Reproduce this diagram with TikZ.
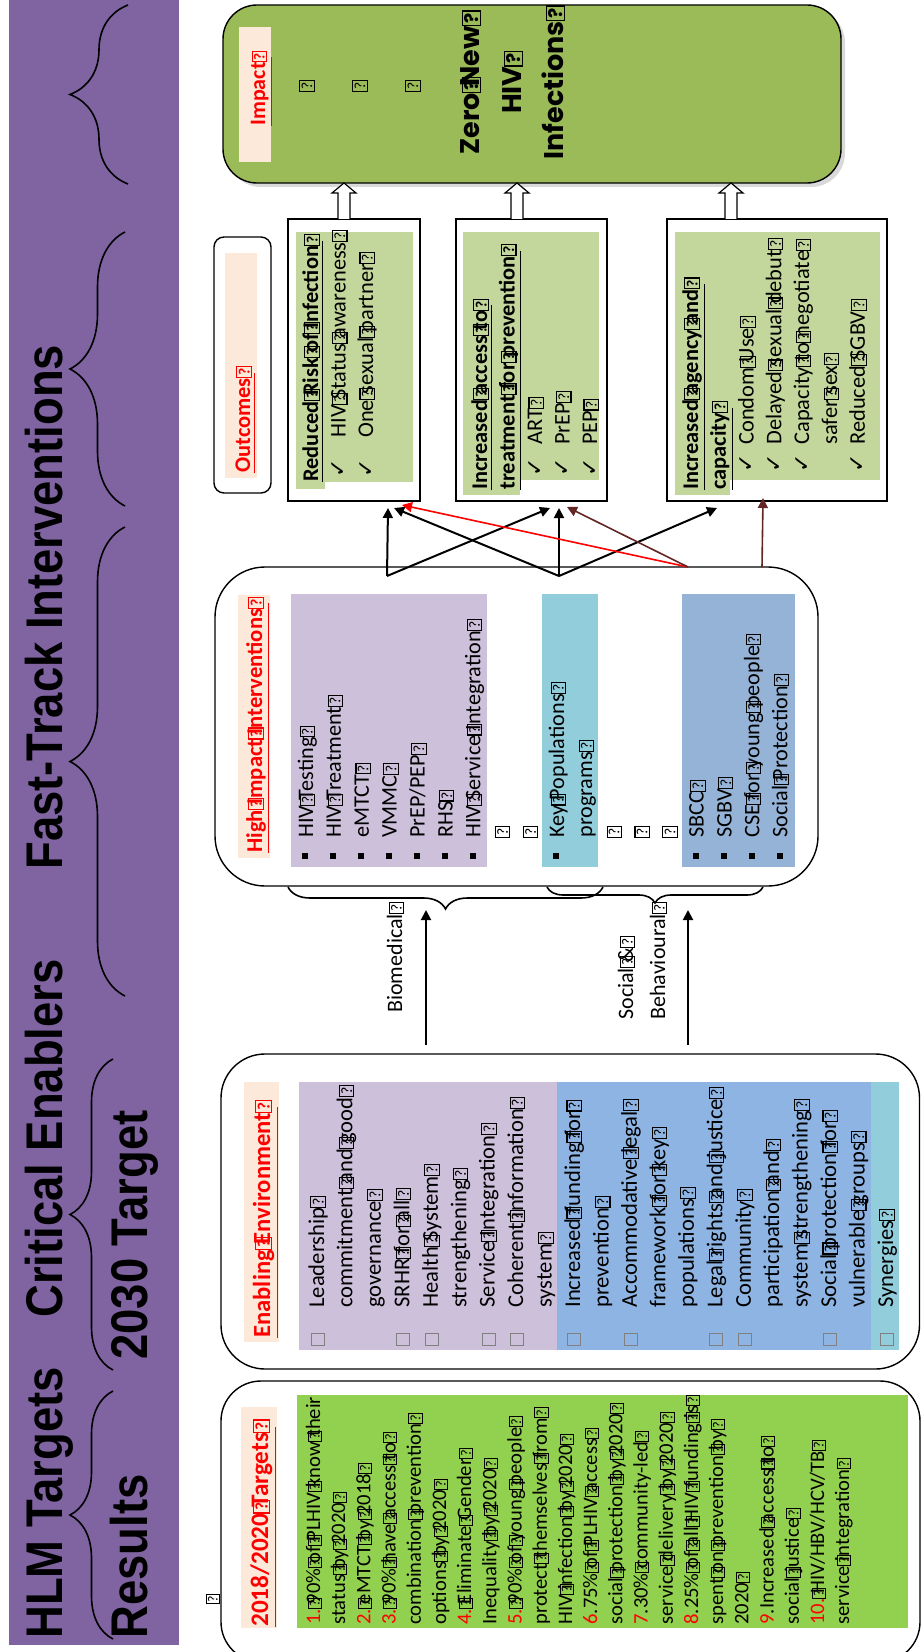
\documentclass[tikz,border=0pt]{standalone}
\usepackage{fontspec}
\usepackage{graphicx}
\setmainfont{Carlito}
\newfontfamily\hdrfont[FakeStretch=0.88]{Liberation Sans}
\newfontfamily\impfont{Poppins}
\newfontfamily\symfont{DejaVu Sans}
\usetikzlibrary{arrows.meta,decorations.pathreplacing,fit,shadows}

\definecolor{bandpurple}{HTML}{8064A2}
\definecolor{peach}{HTML}{FDE9D9}
\definecolor{tgtgreen}{HTML}{92D050}
\definecolor{lilac}{HTML}{CCC0DA}
\definecolor{envblue}{HTML}{8DB4E2}
\definecolor{hiiblue}{HTML}{95B3D7}
\definecolor{aqua}{HTML}{92CDDC}
\definecolor{outgreen}{HTML}{C3D69B}
\definecolor{impgreen}{HTML}{9BBB59}
\definecolor{brownred}{HTML}{632523}

% missing-glyph box, as the figure prints it
\newcommand\qm{\makebox[0.24em][l]{\raisebox{0.02em}{\scalebox{0.7}{\fboxsep=0.08em\fboxrule=0.07em\fbox{?}}}}}
\newcommand\rd[1]{\textcolor{red}{#1}}
\newcommand\cbx{\makebox[19pt][l]{\textcolor{gray}{\fboxsep=0pt\fboxrule=0.5pt\fbox{\rule{0pt}{6pt}\hspace{5.5pt}}}}}
\newcommand\nocbx{\hspace*{19pt}}
\newcommand\sqb{\makebox[10.5pt][l]{\raisebox{2.4pt}{\rule{3pt}{3pt}}}}
\newcommand\nosqb{\hspace*{10.5pt}}
\newcommand\tk[2]{\hspace*{#1}\makebox[#2][l]{\symfont\fontsize{11}{11}\selectfont ✓}}

\tikzset{
  rot/.style={rotate=90, anchor=base west, inner sep=0pt},
  hdr/.style={rot, font=\hdrfont\bfseries\fontsize{25.8}{30}\selectfont},
  lbl/.style={rot, text=red, font=\bfseries\fontsize{#1}{#1}\selectfont},
  blk/.style 2 args={rot, align=left, text width=150pt, font=\fontsize{#1}{#2}\selectfont},
  rbox/.style={draw=black, line width=0.7pt, rounded corners=#1, inner sep=0pt},
  obox/.style={draw=black, line width=0.7pt, inner sep=0pt},
  conn/.style={-{Triangle[length=5pt,width=5pt]}, line width=1pt},
  hbrace/.style={decorate, decoration={brace, amplitude=#1}, line width=0.8pt},
}

\begin{document}
\begin{tikzpicture}[x=0.5pt, y=-0.5pt]
\useasboundingbox (0,0) rectangle (921,1652);
\clip (0,0) rectangle (921,1652);

% header band
\fill[bandpurple] (9,0) rectangle (179,1645);
\node[hdr] (hlm) at (62,1639) {HLM Targets};
\node[hdr] (crit) at (62,1318) {Critical Enablers};
\node[hdr] (fast) at (62,870) {Fast-Track Interventions};
\node[hdr] (res) at (147,1639) {Results};
\node[hdr] (goal) at (147,1360) {2030 Target};
\draw[hbrace=21.5pt] (113,1639) -- (113,1391);
\draw[hbrace=21.5pt] (113,1370) -- (113,1059);
\draw[hbrace=27.5pt] (125,996) -- (125,527);
\draw[hbrace=27.5pt] (125,506) -- (125,232);
\draw[hbrace=29pt] (128,184) -- (128,5);

% boxes
\node[rbox=17pt, fill=impgreen, drop shadow={opacity=0.3,shadow xshift=2pt,shadow yshift=-2pt},
  fit={(223,5) (841,183)}] (imp) {};
\node[rbox=5pt, fit={(214,237) (271,493)}] (outc) {};
\node[obox, fit={(288,219) (420,501)}] (rr) {};
\node[obox, fit={(456,219) (607,501)}] (ia) {};
\node[obox, fit={(667,219) (887,501)}] (ac) {};
\node[rbox=25pt, fit={(215,567) (818,886)}] (hii) {};
\node[rbox=22pt, fit={(221,1054) (919.5,1369)}] (env) {};
\node[rbox=20pt, fit={(221,1381) (920,1662)}] (tgt) {};

% coloured panels
\fill[peach] (239,27) rectangle (271,162);
\fill[peach] (225,253) rectangle (257,478);
\fill[peach] (238,595) rectangle (270,858);
\fill[peach] (244,1082) rectangle (279,1342);
\fill[peach] (241,1407) rectangle (277,1628);
\fill[outgreen] (296,232) rectangle (413,482);
\fill[outgreen] (296,482) rectangle (325,489);
\fill[outgreen] (463,232) rectangle (599,480);
\fill[outgreen] (463,480) rectangle (520,495);
\fill[outgreen] (675,232) rectangle (880,480);
\fill[outgreen] (675,480) rectangle (730,495);
\fill[lilac] (291,594) rectangle (487,867);
\fill[aqua] (542,594) rectangle (598,867);
\fill[hiiblue] (682,594) rectangle (795,867);
\fill[lilac] (299,1082) rectangle (557,1350);
\fill[envblue] (557,1082) rectangle (871,1350);
\fill[aqua] (871,1082) rectangle (899,1350);
\fill[tgtgreen] (297,1395) rectangle (908,1628);

% labels
\node[lbl=11] (implbl) at (265,126) {\underline{Impact\qm}};
\node[lbl=11.2] (outlbl) at (250,473) {\underline{Outcomes\qm}};
\node[lbl=11.3] (hiilbl) at (262,853) {\underline{High\qm Impact\qm Interventions\qm}};
\node[lbl=12.3] (envlbl) at (270,1338) {\underline{Enabling\qm Environment\qm}};
\node[lbl=12.6] (tgtlbl) at (268,1627) {\underline{2018/2020\qm Targets\qm}};

% impact
\foreach \py [count=\i] in {307,360,413}
  \node[rot, anchor=center, font=\fontsize{11}{11}\selectfont] (iq\i) at (\py,89) {\qm};
\node[rot, anchor=base, align=center, text width=90pt,
  font=\impfont\bfseries\fontsize{13.5}{21}\selectfont] (zero) at (479,87)
  {Zero\qm New\qm\\HIV\qm\\Infections\qm};

% outcomes
\node[blk={11.2}{13.75}] (rrtxt) at (318,482) {%
\underline{\textbf{Reduced\qm Risk\qm of\qm Infection\qm}}\\
\tk{2pt}{20pt}HIV\qm Status\qm awareness\qm\\
\tk{2pt}{20pt}One\qm sexual\qm partner\qm};
\node[blk={11.2}{13.75}] (iatxt) at (487,490) {%
\underline{\textbf{Increased\qm access\qm to\qm}}\\
\underline{\textbf{treatment\qm for\qm prevention\qm}}\\
\tk{6.5pt}{16pt}ART\qm\\
\tk{6.5pt}{16pt}PrEP\qm\\
\tk{6.5pt}{16pt}PEP\qm};
\node[blk={11.2}{13.9}] (actxt) at (698,490) {%
\underline{\textbf{Increased\qm agency\qm and\qm}}\\
\underline{\textbf{capacity\qm}}\\
\tk{8.5pt}{14pt}Condom\qm Use\qm\\
\tk{8.5pt}{14pt}Delayed\qm sexual\qm debut\qm\\
\tk{8.5pt}{14pt}Capacity\qm to\qm negotiate\qm\\
\hspace*{22.5pt}safer\qm sex\qm\\
\tk{8.5pt}{14pt}Reduced\qm SGBV\qm};

% upward hollow arrows
\foreach \c/\n in {344/u1,517/u2,731/u3} {
  \coordinate (\n) at (\c,219);
  \draw[fill=white, line width=0.6pt] (\n) ++(-6,0) -- ++(0,-26) -- ++(-6,0) -- ++(12,-10)
    -- ++(12,10) -- ++(-6,0) -- ++(0,26);
}

% high impact interventions
\node[blk={11.1}{13.95}] (hiitxt) at (313,859) {%
\sqb HIV\qm Testing\qm\\
\sqb HIV\qm Treatment\qm\\
\sqb eMTCT\qm\\
\sqb VMMC\qm\\
\sqb PrEP/PEP\qm\\
\sqb RHS\qm\\
\sqb HIV\qm Service\qm Integration\qm\\
\nosqb\qm\\
\nosqb\qm\\
\sqb Key\qm Populations\qm\\
\nosqb programs\qm\\
\nosqb\qm\\
\nosqb\qm\\
\nosqb\qm\\
\sqb SBCC\qm\\
\sqb SGBV\qm\\
\sqb CSE\qm for\qm young\qm people\qm\\
\sqb Social\qm Protection\qm};

% connectors into the outcomes
\coordinate (hA) at (387,576);
\coordinate (hB) at (559,576);
\coordinate (hR) at (688,567);
\coordinate (hC) at (762,567);
\coordinate (rr1) at (388,508);
\coordinate (rr2) at (394,508);
\coordinate (rrR) at (402,505);
\coordinate (ia1) at (550,508);
\coordinate (ia2) at (559,508);
\coordinate (iaR) at (567,507);
\coordinate (ac1) at (717,508);
\coordinate (ac2) at (763,498);
\draw[conn] (hA) -- (rr1);
\draw[conn] (hA) -- (ia1);
\draw[conn] (hB) -- (rr2);
\draw[conn] (hB) -- (ia2);
\draw[conn] (hB) -- (ac1);
\draw[conn, red, line width=0.8pt] (hR) -- (rrR);
\draw[conn, brownred, line width=0.8pt] (hR) -- (iaR);
\draw[conn, brownred, line width=0.8pt] (hC) -- (ac2);

% braces and arrows from the enablers
\draw[hbrace=11pt] (603,887) -- (288,887);
\draw[hbrace=8pt] (763,887) -- (547,887);
\coordinate (bmS) at (426,1045);
\coordinate (bmE) at (426,910);
\coordinate (sbS) at (688,1045);
\coordinate (sbE) at (688,910);
\draw[conn] (bmS) -- (bmE);
\draw[conn] (sbS) -- (sbE);
\node[rot, font=\fontsize{11}{11}\selectfont] (bio) at (402,1013) {Biomedical\qm};
\node[blk={11}{16}] (soc) at (633,1020) {Social\qm \&\qm\\Behavioural\qm};

% enabling environment
\node[blk={11.3}{14.225}] (envtxt) at (324,1346) {%
\cbx Leadership\qm\\
\nocbx commitment\qm and\qm good\qm\\
\nocbx governance\qm\\
\cbx SRHR\qm for\qm all\qm\\
\cbx Health\qm System\qm\\
\nocbx strengthening\qm\\
\cbx Service\qm Integration\qm\\
\cbx Coherent\qm information\qm\\
\nocbx system\qm\\
\cbx Increased\qm funding\qm for\qm\\
\nocbx prevention\qm\\
\cbx Accommodative\qm legal\qm\\
\nocbx framework\qm for\qm key\qm\\
\nocbx populations\qm\\
\cbx Legal\qm rights\qm and\qm justice\qm\\
\cbx Community\qm\\
\nocbx participation\qm and\qm\\
\nocbx system\qm strengthening\qm\\
\cbx Social\qm protection\qm for\qm\\
\nocbx vulnerable\qm groups\qm\\
\cbx Synergies\qm};

% targets
\node[rot, anchor=center, font=\fontsize{10}{10}\selectfont] (tq) at (213,1602) {\qm};
\node[blk={10.3}{12.6}] (tgttxt) at (320,1625) {%
\rd{1.}\qm 90\%\qm of\qm PLHIV\qm know\qm their\\
status\qm by\qm 2020\qm\\
\rd{2.}\qm eMTCT\qm by\qm 2018\qm\\
\rd{3.}\qm 90\%\qm have\qm access\qm to\qm\\
combination\qm prevention\qm\\
options\qm by\qm 2020\qm\\
\rd{4.}\qm Eliminate\qm Gender\qm\\
Inequality\qm by\qm 2020\qm\\
\rd{5.}\qm 90\%\qm of\qm young\qm people\qm\\
protect\qm themselves\qm from\qm\\
HIV\qm infection\qm by\qm 2020\qm\\
\rd{6}.75\%\qm of\qm PLHIV\qm access\qm\\
social\qm protection\qm by\qm 2020\qm\\
\rd{7}.30\%\qm community-led\qm\\
service\qm delivery\qm by\qm 2020\qm\\
\rd{8}.25\%\qm of\qm all\qm HIV\qm funding\qm is\qm\\
spent\qm on\qm prevention\qm by\qm\\
2020\qm\\
\rd{9}.Increased\qm access\qm to\qm\\
social\qm justice\qm\\
\rd{10.}\qm HIV/HBV/HCV/TB\qm\\
service\qm integration\qm};
\end{tikzpicture}
\end{document}
